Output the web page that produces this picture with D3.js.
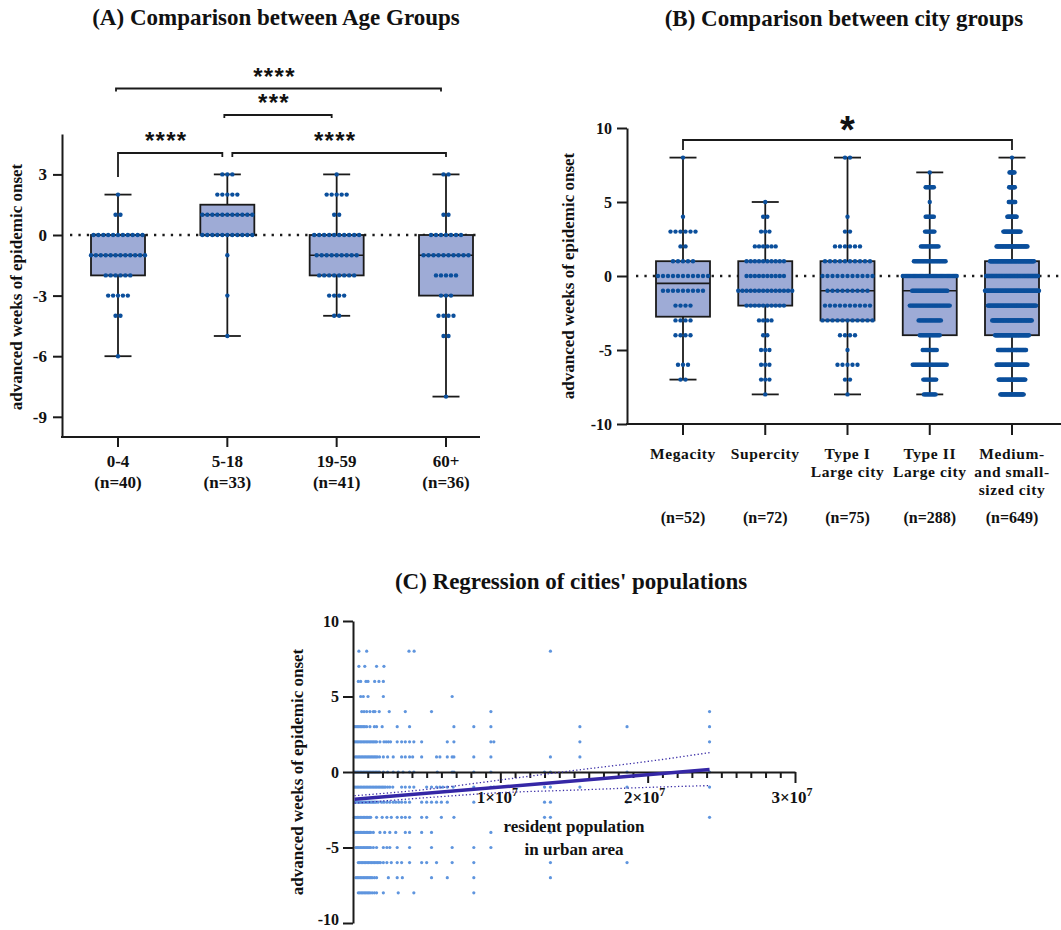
<!DOCTYPE html>
<html>
<head>
<meta charset="utf-8">
<script src="https://d3js.org/d3.v7.min.js"></script>
<style>
  body { margin: 0; background: #fff; }
  svg text { font-family: "Liberation Serif", "Times New Roman", serif; font-weight: bold; fill: #111; }
  svg text.stars { font-family: "Liberation Sans", Arial, sans-serif; }
</style>
</head>
<body>
<svg id="chart" width="1061" height="930"></svg>
<script>
// ---------- (A) age groups ----------
const ageGroups = ["0-4", "5-18", "19-59", "60+"];
const ageN = [40, 33, 41, 36];
const ageMin = [-6, -5, -4, -8];
const ageQ1 = [-2, 0, -2, -3];
const ageMedian = [-1, 1, -1, -1];
const ageQ3 = [0, 1.5, 0, 0];
const ageMax = [2, 3, 3, 3];
// [weeks, number of cases] for each group
const ageDots = [
  [[2, 1], [1, 2], [0, 11], [-1, 12], [-2, 6], [-3, 5], [-4, 2], [-6, 1]],
  [[3, 3], [2, 5], [1, 11], [0, 11], [-1, 1], [-3, 1], [-5, 1]],
  [[3, 1], [2, 5], [1, 2], [0, 10], [-1, 9], [-2, 8], [-3, 4], [-4, 2]],
  [[3, 2], [1, 2], [0, 7], [-1, 10], [-2, 5], [-3, 3], [-4, 4], [-5, 2], [-8, 1]]
];
const ageTicks = [3, 0, -3, -6, -9];
// [group a, group b, label]
const ageSig = [[0, 1, "****"], [1, 3, "****"], [1, 2, "***"], [0, 3, "****"]];

// ---------- (B) city groups ----------
const cityGroups = [["Megacity"], ["Supercity"], ["Type I", "Large city"], ["Type II", "Large city"], ["Medium-", "and small-", "sized city"]];
const cityN = [52, 72, 75, 288, 649];
const cityMin = [-7, -8, -8, -8, -8];
const cityQ1 = [-2.75, -2, -3, -4, -4];
const cityMedian = [-0.5, -1, -1, -1, -1];
const cityQ3 = [1, 1, 1, 0, 1];
const cityMax = [8, 5, 8, 7, 8];
const cityDots = [
  [[8, 1], [4, 1], [3, 6], [2, 2], [1, 5], [0, 11], [-1, 9], [-2, 4], [-3, 4], [-4, 4], [-6, 3], [-7, 2]],
  [[5, 1], [4, 2], [3, 3], [2, 6], [1, 10], [0, 10], [-1, 14], [-2, 10], [-3, 4], [-4, 2], [-5, 3], [-6, 3], [-7, 3], [-8, 1]],
  [[8, 2], [4, 1], [3, 2], [2, 6], [1, 10], [0, 11], [-1, 9], [-2, 10], [-3, 11], [-4, 4], [-5, 1], [-6, 5], [-7, 2], [-8, 1]],
  [[7, 1], [6, 8], [5, 1], [4, 8], [3, 9], [2, 16], [1, 28], [0, 47], [-1, 31], [-2, 35], [-3, 20], [-4, 18], [-5, 13], [-6, 30], [-7, 12], [-8, 11]],
  [[8, 1], [7, 8], [6, 9], [5, 10], [4, 14], [3, 25], [2, 44], [1, 62], [0, 73], [-1, 76], [-2, 68], [-3, 56], [-4, 48], [-5, 40], [-6, 44], [-7, 38], [-8, 33]]
];
const cityTicks = [10, 5, 0, -5, -10];
const citySig = [[0, 4, "*"]];

// ---------- (C) regression on population (millions) ----------
const regWeeks = [8, 7, 6, 5, 4, 3, 2, 1, 0, -1, -2, -3, -4, -5, -6, -7, -8];
const regPops = [
  [0.4, 0.93, 3.8, 4.15, 13.4],
  [0.4, 0.8, 1.6, 2.1],
  [0.36, 0.52, 0.88, 1.02, 1.47, 1.76, 2.06],
  [0.52, 0.7, 1.02, 2.06, 6.73],
  [0.59, 0.75, 0.93, 1.15, 1.38, 1.49, 1.78, 2.46, 3.55, 5.33, 9.36, 24.2],
  [0.1, 0.2, 0.3, 0.4, 0.5, 0.6, 0.7, 0.8, 0.93, 1.15, 1.45, 1.6, 1.98, 3.0, 3.84, 6.85, 8.2, 9.36, 15.4, 18.6, 24.2],
  [0.1, 0.2, 0.3, 0.4, 0.5, 0.6, 0.7, 0.8, 0.9, 1.0, 1.1, 1.2, 1.3, 1.4, 1.5, 1.6, 1.83, 2.1, 2.25, 2.4, 2.55, 3.0, 3.3, 3.55, 3.84, 4.13, 4.66, 6.4, 6.85, 9.36, 9.56, 15.4, 24.2],
  [0.15, 0.25, 0.35, 0.45, 0.55, 0.65, 0.75, 0.85, 0.95, 1.05, 1.15, 1.25, 1.35, 1.45, 1.55, 1.65, 1.8, 2.06, 2.35, 2.73, 3.3, 3.55, 3.84, 4.05, 4.66, 5.67, 5.9, 6.4, 6.73, 6.85, 8.2, 9.36, 13.4, 15.4],
  [0.1, 0.2, 0.3, 0.4, 0.5, 0.6, 0.7, 0.8, 0.9, 1.0, 1.1, 1.2, 1.3, 1.4, 1.5, 1.6, 1.7, 1.8, 2.06, 2.35, 2.73, 3.07, 3.4, 3.84, 4.13, 5.72, 6.73, 6.85, 8.2, 9.36, 13.0, 13.4, 18.6, 24.2],
  [0.1, 0.2, 0.3, 0.4, 0.5, 0.6, 0.7, 0.8, 0.9, 1.0, 1.1, 1.2, 1.3, 1.4, 1.5, 1.6, 1.7, 1.8, 1.9, 2.0, 2.1, 2.2, 2.35, 2.5, 2.7, 3.3, 3.55, 3.84, 4.13, 5.0, 5.33, 5.67, 5.9, 6.1, 6.4, 6.8, 8.2, 9.36, 9.56, 13.0, 13.4, 15.4, 18.6, 24.2],
  [0.14, 0.25, 0.35, 0.45, 0.55, 0.65, 0.75, 0.85, 0.95, 1.05, 1.15, 1.25, 1.35, 1.45, 1.55, 1.7, 1.94, 2.1, 2.3, 2.5, 2.73, 2.9, 3.1, 3.3, 3.55, 3.84, 4.66, 5.0, 5.33, 5.67, 6.0, 6.4, 8.2, 13.0, 13.4, 18.6],
  [0.1, 0.2, 0.3, 0.4, 0.5, 0.6, 0.7, 0.8, 0.9, 1.0, 1.1, 1.2, 1.6, 1.98, 2.3, 2.6, 3.0, 3.3, 3.55, 3.84, 4.66, 5.0, 6.0, 6.85, 13.0, 13.4, 24.2],
  [0.1, 0.2, 0.3, 0.4, 0.5, 0.6, 0.7, 0.8, 0.9, 1.0, 1.1, 1.2, 1.38, 1.83, 2.15, 2.5, 2.9, 3.55, 3.84, 4.66, 5.33, 9.36, 13.4, 15.4],
  [0.2, 0.3, 0.4, 0.5, 0.6, 0.7, 0.8, 0.9, 1.0, 1.1, 1.2, 1.38, 1.6, 2.06, 2.3, 2.5, 3.0, 3.84, 5.33, 6.73, 8.2, 9.36],
  [0.36, 0.46, 0.56, 0.66, 0.76, 0.86, 0.96, 1.06, 1.16, 1.26, 1.36, 1.46, 1.56, 1.66, 1.76, 1.86, 2.06, 2.3, 2.6, 3.0, 3.3, 3.84, 4.66, 5.0, 5.67, 6.73, 8.2, 13.4, 18.6],
  [0.2, 0.3, 0.4, 0.5, 0.6, 0.7, 0.8, 0.9, 1.0, 1.1, 1.2, 1.3, 1.45, 1.6, 2.4, 3.0, 3.35, 5.33, 6.4, 8.2, 13.4],
  [0.36, 0.46, 0.56, 0.66, 0.76, 0.86, 0.96, 1.06, 1.16, 1.3, 1.45, 1.6, 2.06, 3.07, 4.13, 8.2]
];
// fitted line and 95% band
const fitPops = [0.1, 24.2];
const fitWeeks = [-1.81, 0.17];
const bandPops = [0.1, 5, 10, 15, 20, 24.2];
const bandUpper = [-1.57, -1.15, -0.53, 0.1, 0.7, 1.28];
const bandLower = [-2.07, -1.7, -1.37, -1.2, -1.02, -0.9];
const regYTicks = [10, 5, 0, -5, -10];
const regXMajor = [1, 2, 3];

const svg = d3.select("#chart");
svg.append("rect").attr("width", 1061).attr("height", 930).attr("fill", "#fff");

const boxFill = "#9eabd6", dotColor = "#0b4f9c", ink = "#1a1a1a";

// shared box + dot drawing
function drawBoxes(g, x, y, mins, q1s, meds, q3s, maxs, dots, boxW, capW) {
  x.domain().forEach((c, i) => {
    const cx = x(c);
    g.append("line").attr("x1", cx).attr("x2", cx)
      .attr("y1", y(mins[i])).attr("y2", y(maxs[i]))
      .attr("stroke", ink).attr("stroke-width", 1.8);
    [mins[i], maxs[i]].forEach(v => {
      g.append("line").attr("x1", cx - capW / 2).attr("x2", cx + capW / 2)
        .attr("y1", y(v)).attr("y2", y(v))
        .attr("stroke", ink).attr("stroke-width", 1.8);
    });
    g.append("rect").attr("x", cx - boxW / 2).attr("y", y(q3s[i]))
      .attr("width", boxW).attr("height", y(q1s[i]) - y(q3s[i]))
      .attr("fill", boxFill).attr("stroke", ink).attr("stroke-width", 1.8);
    g.append("line").attr("x1", cx - boxW / 2).attr("x2", cx + boxW / 2)
      .attr("y1", y(meds[i])).attr("y2", y(meds[i]))
      .attr("stroke", ink).attr("stroke-width", 1.6);

    // dots: one row per value, centred, spacing shrinks for big groups
    const maxCount = d3.max(dots[i], d => d[1]);
    const gap = Math.min(5, 54 / Math.max(1, maxCount - 1));
    const pts = [];
    dots[i].forEach(([v, n]) => {
      for (let k = 0; k < n; k++) pts.push({ x: cx + (k - (n - 1) / 2) * gap, v: v });
    });
    g.append("g").selectAll("circle").data(pts).join("circle")
      .attr("cx", d => d.x).attr("cy", d => y(d.v)).attr("r", 2.2)
      .attr("fill", dotColor);
  });
}

function zeroLine(g, y, x1, x2) {
  g.append("line").attr("x1", x1).attr("x2", x2).attr("y1", y(0)).attr("y2", y(0))
    .attr("stroke", ink).attr("stroke-width", 2.3).attr("stroke-dasharray", "2.3,6.1");
}

function styleAxis(sel, size) {
  sel.select(".domain").attr("stroke", ink).attr("stroke-width", 2);
  sel.selectAll(".tick line").attr("stroke", ink).attr("stroke-width", 2);
  sel.selectAll(".tick text").attr("fill", ink).style("font-size", size + "px")
    .style("font-family", '"Liberation Serif", "Times New Roman", serif').style("font-weight", "bold");
}

function yLabel(x, cy, text) {
  svg.append("text").attr("transform", `translate(${x},${cy}) rotate(-90)`)
    .attr("text-anchor", "middle").style("font-size", "17px").text(text);
}

// ================= Panel A =================
const gA = svg.append("g");
const xA = d3.scalePoint().domain(ageGroups).range([118, 446]);
const yA = d3.scaleLinear().domain([-10, 5]).range([437, 134]);

svg.append("text").attr("x", 276).attr("y", 25).attr("text-anchor", "middle")
  .style("font-size", "23px").text("(A) Comparison between Age Groups");

zeroLine(gA, yA, 70, 480);
drawBoxes(gA, xA, yA, ageMin, ageQ1, ageMedian, ageQ3, ageMax, ageDots, 54, 27);

const axA = gA.append("g").attr("transform", "translate(62,0)")
  .call(d3.axisLeft(yA).tickValues(ageTicks).tickSize(9).tickSizeOuter(0).tickPadding(6).tickFormat(d => String(d)));
styleAxis(axA, 17);

// x axis of A
gA.append("line").attr("x1", 61).attr("x2", 480).attr("y1", 437).attr("y2", 437)
  .attr("stroke", ink).attr("stroke-width", 2);
ageGroups.forEach((c, i) => {
  gA.append("line").attr("x1", xA(c)).attr("x2", xA(c)).attr("y1", 437).attr("y2", 447)
    .attr("stroke", ink).attr("stroke-width", 2);
  gA.append("text").attr("x", xA(c)).attr("y", 467).attr("text-anchor", "middle")
    .style("font-size", "17px").text(c);
  gA.append("text").attr("x", xA(c)).attr("y", 488).attr("text-anchor", "middle")
    .style("font-size", "17px").text(`(n=${ageN[i]})`);
});
yLabel(21.5, 287, "advanced weeks of epidemic onset");

// significance brackets of A
const ageSigY = [153, 153, 115, 88.5];
const ageSigInset = [[0, 5], [5, 0], [-3, 5], [-2, 5]];
const ageSigDrop = [[24, 4], [4, 4], [3, 3], [3, 3]];
ageSig.forEach(([a, b, lab], i) => {
  const x1 = xA(ageGroups[a]) + ageSigInset[i][0];
  const x2 = xA(ageGroups[b]) - ageSigInset[i][1];
  const yy = ageSigY[i];
  gA.append("path")
    .attr("d", `M${x1},${yy + ageSigDrop[i][0]}V${yy}H${x2}V${yy + ageSigDrop[i][1]}`)
    .attr("fill", "none").attr("stroke", ink).attr("stroke-width", 1.8);
  gA.append("text").attr("class", "stars").attr("x", (x1 + x2) / 2 - 4).attr("y", yy - 4)
    .attr("text-anchor", "middle").style("font-size", "24px").style("letter-spacing", "1.3px").text(lab);
});

// ================= Panel B =================
const gB = svg.append("g");
const xB = d3.scalePoint().domain(cityGroups.map(d => d.join(" "))).range([683, 1012]);
const yB = d3.scaleLinear().domain([-10, 10]).range([424, 128]);

svg.append("text").attr("x", 844).attr("y", 26).attr("text-anchor", "middle")
  .style("font-size", "23px").text("(B) Comparison between city groups");

zeroLine(gB, yB, 636, 1061);
drawBoxes(gB, xB, yB, cityMin, cityQ1, cityMedian, cityQ3, cityMax, cityDots, 54, 27);

const axB = gB.append("g").attr("transform", "translate(627,0)")
  .call(d3.axisLeft(yB).tickValues(cityTicks).tickSize(10).tickSizeOuter(0).tickPadding(5).tickFormat(d => String(d)));
styleAxis(axB, 16);

gB.append("line").attr("x1", 626).attr("x2", 1061).attr("y1", 424).attr("y2", 424)
  .attr("stroke", ink).attr("stroke-width", 2);
cityGroups.forEach((lines, i) => {
  const cx = xB(lines.join(" "));
  gB.append("line").attr("x1", cx).attr("x2", cx).attr("y1", 424).attr("y2", 435)
    .attr("stroke", ink).attr("stroke-width", 2);
  lines.forEach((t, j) => {
    gB.append("text").attr("x", cx).attr("y", 459 + j * 18).attr("text-anchor", "middle")
      .style("font-size", "15.5px").style("letter-spacing", "0.6px").text(t);
  });
  gB.append("text").attr("x", cx).attr("y", 523).attr("text-anchor", "middle")
    .style("font-size", "16px").text(`(n=${cityN[i]})`);
});
yLabel(574, 276, "advanced weeks of epidemic onset");

citySig.forEach(([a, b, lab]) => {
  const x1 = xB(cityGroups[a].join(" ")), x2 = xB(cityGroups[b].join(" "));
  gB.append("path").attr("d", `M${x1},150V140H${x2}V150`)
    .attr("fill", "none").attr("stroke", ink).attr("stroke-width", 1.8);
  gB.append("text").attr("class", "stars").attr("x", (x1 + x2) / 2).attr("y", 143)
    .attr("text-anchor", "middle").style("font-size", "38px").text(lab);
});

// ================= Panel C =================
const gC = svg.append("g");
const xC = d3.scaleLinear().domain([0, 30]).range([353, 795]);   // millions
const yC = d3.scaleLinear().domain([-10, 10]).range([923, 621]);

svg.append("text").attr("x", 571).attr("y", 589).attr("text-anchor", "middle")
  .style("font-size", "23px").text("(C) Regression of cities' populations");

const scatter = [];
regWeeks.forEach((w, i) => regPops[i].forEach(p => scatter.push({ p: p, w: w })));
gC.append("g").selectAll("circle").data(scatter).join("circle")
  .attr("cx", d => xC(d.p)).attr("cy", d => yC(d.w)).attr("r", 1.6)
  .attr("fill", "#5f95de");

// axes
const axCy = gC.append("g").attr("transform", "translate(353,0)")
  .call(d3.axisLeft(yC).tickValues(regYTicks).tickSize(10).tickSizeOuter(0).tickPadding(4).tickFormat(d => String(d)));
styleAxis(axCy, 16);
// keep the bottom label inside the page
axCy.selectAll(".tick text").filter(d => d === -10).attr("dy", "0.12em");

const axCx = gC.append("g").attr("transform", `translate(0,${yC(0)})`)
  .call(d3.axisBottom(xC).tickValues(d3.range(0, 31, 1)).tickSize(6).tickSizeOuter(0).tickFormat(""));
styleAxis(axCx, 16);
axCx.selectAll(".tick line").filter(d => d % 10 === 0).attr("y2", 11);
axCx.selectAll(".tick").filter(d => d === 0).remove();

regXMajor.forEach(m => {
  const t = gC.append("text").attr("x", xC(m * 10) - 3).attr("y", 803).attr("text-anchor", "middle")
    .style("font-size", "17px");
  t.append("tspan").text(`${m}×10`);
  t.append("tspan").attr("dy", -7).style("font-size", "12px").text("7");
});

gC.append("text").attr("x", 574).attr("y", 832).attr("text-anchor", "middle")
  .style("font-size", "17px").text("resident population");
gC.append("text").attr("x", 574).attr("y", 855).attr("text-anchor", "middle")
  .style("font-size", "17px").text("in urban area");
yLabel(303, 772, "advanced weeks of epidemic onset");

// confidence band and fit
const bandLine = d3.line().curve(d3.curveMonotoneX);
[bandUpper, bandLower].forEach(arr => {
  gC.append("path")
    .attr("d", bandLine(bandPops.map((p, i) => [xC(p), yC(arr[i])])))
    .attr("fill", "none").attr("stroke", "#3a2da6").attr("stroke-width", 1.3)
    .attr("stroke-dasharray", "1.3,2.3");
});
gC.append("path")
  .attr("d", d3.line()(fitPops.map((p, i) => [xC(p), yC(fitWeeks[i])])))
  .attr("fill", "none").attr("stroke", "#3527a6").attr("stroke-width", 3.5);
</script>
</body>
</html>
